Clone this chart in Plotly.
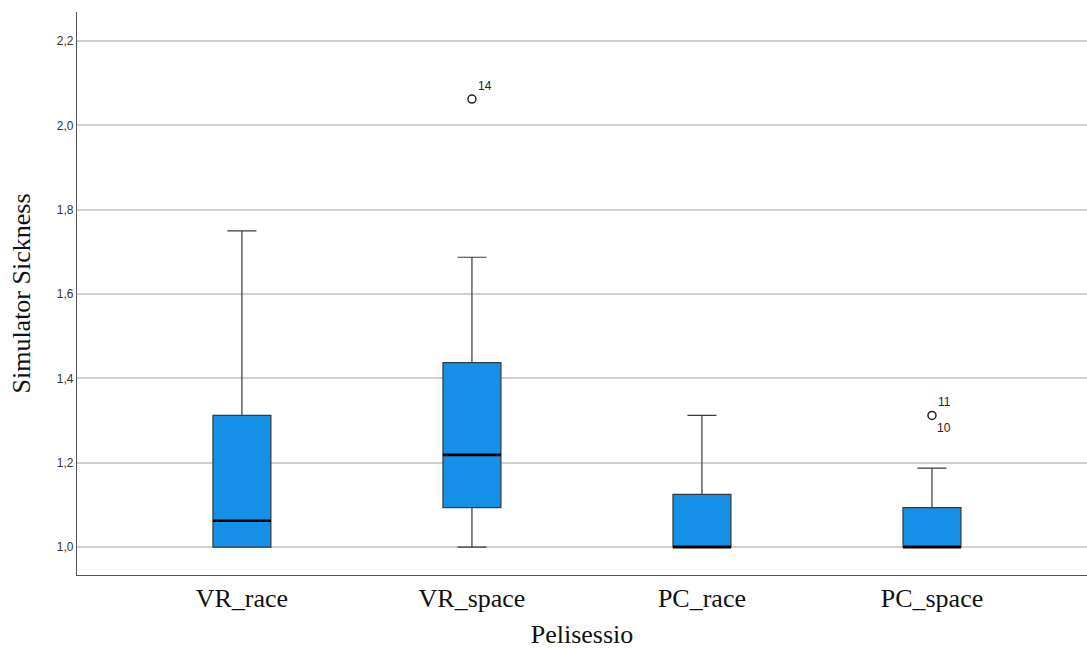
import plotly.graph_objects as go

categories = ["VR_race", "VR_space", "PC_race", "PC_space"]
lower_fence = [1.0, 1.0, 1.0, 1.0]
q1 = [1.0, 1.09375, 1.0, 1.0]
median = [1.0625, 1.21875, 1.0, 1.0]
q3 = [1.3125, 1.4375, 1.125, 1.09375]
upper_fence = [1.75, 1.6875, 1.3125, 1.1875]

outlier_cat = ["VR_space", "PC_space"]
outlier_val = [2.0625, 1.3125]
outlier_ids_above = ["14", "11"]
outlier_ids_below = ["", "10"]

BOX_W = 0.252
pos = {c: i for i, c in enumerate(categories)}
SERIF = "Liberation Serif, serif"
SANS = "Arial, Liberation Sans, sans-serif"

fig = go.Figure()
for i, c in enumerate(categories):
    fig.add_trace(go.Box(
        x=[i], q1=[q1[i]], median=[median[i]], q3=[q3[i]],
        lowerfence=[lower_fence[i]], upperfence=[upper_fence[i]],
        width=BOX_W, whiskerwidth=0.5,
        fillcolor="#1490E6", line=dict(color="#3a3a3a", width=1.2),
        boxpoints=False, showlegend=False, hoverinfo="skip",
    ))
    fig.add_trace(go.Scatter(
        x=[i - BOX_W / 2, i + BOX_W / 2], y=[median[i], median[i]],
        mode="lines", line=dict(color="#000000", width=2.6),
        showlegend=False, hoverinfo="skip",
    ))

ox = [pos[c] for c in outlier_cat]
fig.add_trace(go.Scatter(
    x=ox, y=outlier_val, mode="markers",
    marker=dict(symbol="circle-open", size=8, color="#222", line=dict(width=1.5)),
    showlegend=False, hoverinfo="skip",
))
for x, y, a, b in zip(ox, outlier_val, outlier_ids_above, outlier_ids_below):
    if a:
        fig.add_annotation(x=x, y=y, text=a, showarrow=False, xanchor="left", yanchor="middle",
                           xshift=4, yshift=13, font=dict(family=SANS, size=12, color="#222"))
    if b:
        fig.add_annotation(x=x, y=y, text=b, showarrow=False, xanchor="left", yanchor="middle",
                           xshift=3, yshift=-13, font=dict(family=SANS, size=12, color="#222"))

fig.update_layout(
    width=1087, height=649,
    margin=dict(l=77, r=0, t=12, b=74),
    plot_bgcolor="white", paper_bgcolor="white",
    xaxis=dict(
        tickmode="array", tickvals=list(range(len(categories))), ticktext=categories,
        range=[-0.717, 3.674], showgrid=False, zeroline=False,
        showline=True, linecolor="#555", linewidth=1.2,
        tickfont=dict(family=SERIF, size=26, color="#111"),
        title=dict(text="Pelisessio", font=dict(family=SERIF, size=26, color="#111"), standoff=13),
        ticks="",
    ),
    yaxis=dict(
        range=[0.934, 2.269], tickvals=[1.0, 1.2, 1.4, 1.6, 1.8, 2.0, 2.2],
        ticktext=["1,0", "1,2", "1,4", "1,6", "1,8", "2,0", "2,2"],
        showgrid=True, gridcolor="#cfcfcf", gridwidth=1.5, zeroline=False,
        showline=True, linecolor="#555", linewidth=1.2,
        tickfont=dict(family=SANS, size=12, color="#333"),
        title=dict(text="Simulator Sickness", font=dict(family=SERIF, size=26, color="#111"), standoff=18),
        ticks="",
    ),
)

fig.write_html("out.html", config={"displayModeBar": False})
with open("out.html", encoding="utf-8") as f:
    html = f.read()
html = html.replace("<body>", '<body style="margin:0;overflow:hidden">', 1)
with open("out.html", "w", encoding="utf-8") as f:
    f.write(html)
